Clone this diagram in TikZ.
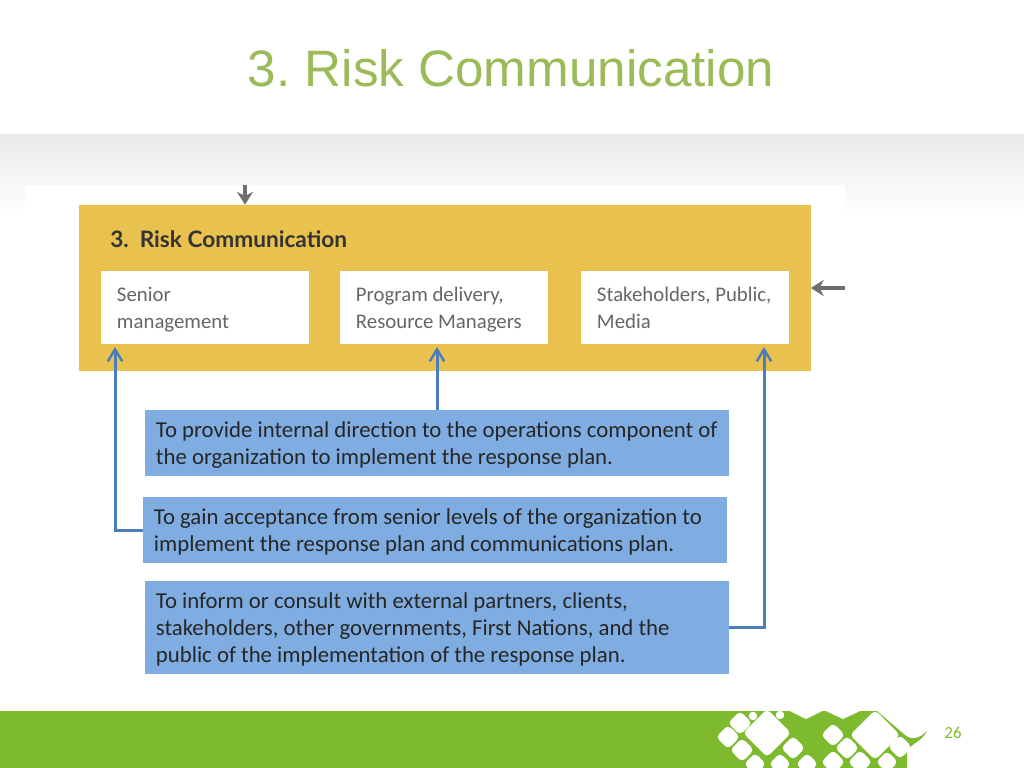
\documentclass[tikz,border=0pt]{standalone}
\usepackage{fontspec}
\setmainfont{Carlito}
\newfontfamily\titlefont{Liberation Sans}
\newfontfamily\panelfont{Lato}
\usetikzlibrary{arrows.meta}
\usetikzlibrary{positioning}
\definecolor{slidegreen}{RGB}{125,186,46}
\definecolor{titlegreen}{RGB}{155,187,89}
\definecolor{panelyellow}{RGB}{232,193,78}
\definecolor{goalblue}{RGB}{127,173,226}
\definecolor{linkblue}{RGB}{74,126,187}
\definecolor{linkgrey}{RGB}{110,110,110}
\tikzset{
  goalbox/.style={fill=goalblue,inner xsep=0.275cm,inner ysep=0pt,minimum width=14.6cm,text width=14.05cm,align=flush left,font=\frenchspacing\fontsize{16.2}{19.2}\selectfont,text=black!85,execute at begin node={\rule{0pt}{14.6pt}}},
  rolebox/.style={fill=white,inner xsep=0.4cm,inner ysep=0pt,minimum width=5.2cm,minimum height=1.825cm,text width=4.4cm,align=flush left,font=\frenchspacing\fontsize{14.8}{19.2}\selectfont,text=black!60,execute at begin node={\rule{0pt}{13.8pt}}},
  bluelink/.style={draw=linkblue,line width=0.75mm,-{Straight Barb[length=3mm,width=3.6mm,line width=0.6mm]}},
  greylink/.style={draw=linkgrey,line width=0.9mm,-{Stealth[length=3.2mm,width=4mm]}}
}
\newcommand{\tileat}[3]{\fill[white,rounded corners=3pt] (#1-#3,#2) -- (#1,#2-#3) -- (#1+#3,#2) -- (#1,#2+#3) -- cycle;}
\begin{document}
\begin{tikzpicture}[x=0.025cm,y=-0.025cm]
  \useasboundingbox (0,0) rectangle (1024,768);
  \fill[white] (0,0) rectangle (1024,768);
  % grey band
  \shade[top color=black!8,bottom color=white] (0,135) rectangle (1024,215);
  \fill[white] (25,185) rectangle (845,300);
  \node[font=\frenchspacing\titlefont\fontsize{36.4}{40}\selectfont,text=titlegreen] (title) at (511,68) {3. Risk Communication};
  % yellow panel
  \node[fill=panelyellow,minimum width=18.275cm,minimum height=4.15cm,inner sep=0pt] (panel) at (445,288) {};
  \node[anchor=west,inner sep=0pt,font=\panelfont\bfseries\fontsize{16.1}{19}\selectfont,text=black!80] (paneltitle) at (110,239) {3.\ \ Risk Communication};
  \node[rolebox] (senior) at (205,307.5) {Senior\\management};
  \node[rolebox] (delivery) at (444,307.5) {Program delivery,\\Resource Managers};
  \node[rolebox] (stake) at (685,307.5) {Stakeholders, Public,\\Media\rule[-3.4pt]{0pt}{1pt}};
  % blue boxes
  \node[goalbox,minimum height=1.65cm] (direct) at (437,443) {To provide internal direction to the operations component of\\the organization to implement the response plan.};
  \node[goalbox,minimum height=1.65cm] (accept) at (435,530) {To gain acceptance from senior levels of the organization to\\implement the response plan and communications plan.};
  \node[goalbox,minimum height=2.325cm] (inform) at (437,627.5) {To inform or consult with external partners, clients,\\stakeholders, other governments, First Nations, and the\\public of the implementation of the response plan.};
  \coordinate (seniortip) at (115,347);
  \coordinate (staketip) at (764,347);
  \coordinate (deliverytip) at (437,347);
  \draw[bluelink] (direct.north) -- (deliverytip);
  \draw[bluelink] (accept.west) -| (seniortip);
  \draw[bluelink] (inform.east) -| (staketip);
  \coordinate (topin) at (245,185);
  \coordinate (sidein) at (845,288);
  \draw[greylink] (topin) -- (topin |- panel.north);
  \draw[greylink] (sidein) -- (panel.east |- sidein);
  % footer
  \fill[slidegreen] (0,711) -- (877,711) -- (905,735) .. controls (912,741) and (920,738) .. (927,731) .. controls (922,742) and (908,745) .. (907,752) -- (907,768) -- (0,768) -- cycle;
  \fill[white] (790,711) -- (806,719) -- (822,711) -- cycle;
  \fill[white] (826,711) -- (843,719) -- (860,711) -- cycle;
  \foreach \cx/\cy/\cr in {767/733/24,740/723/12,728/737/12,742/750/12,755/764/11,793/748/12,780/764/11,807/764/11,833/735/12,847/748/12,833/762/12,860/762/12,875/735/25,900/747/12,887/762/11,753/716/6,780/715/6}{
    \tileat{\cx}{\cy}{\cr}
  }
  \node[text=slidegreen,font=\fontsize{12}{14}\selectfont] (pagenum) at (953,733) {26};
\end{tikzpicture}
\end{document}
